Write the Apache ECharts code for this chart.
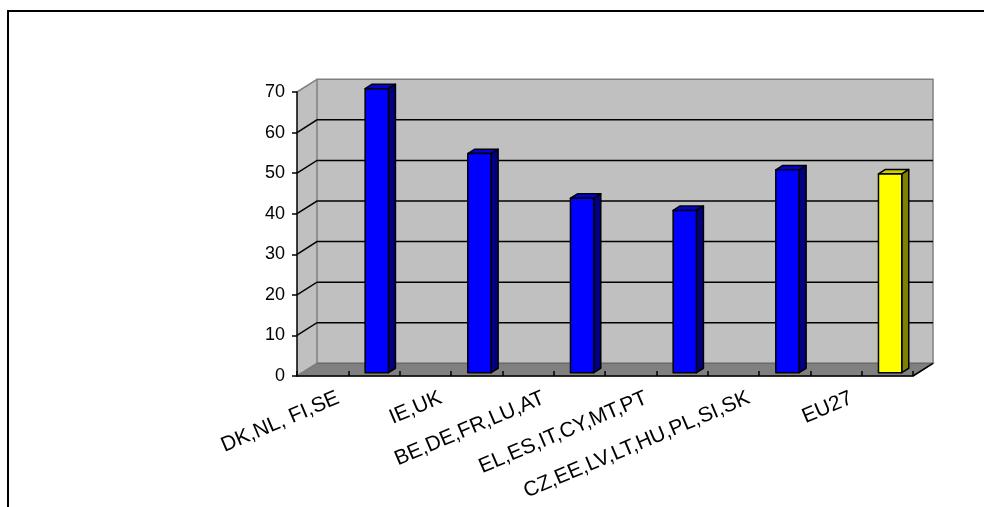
<!DOCTYPE html>
<html>
<head>
<meta charset="utf-8">
<script src="https://cdn.jsdelivr.net/npm/echarts@6/dist/echarts.min.js"></script>
<style>
  html, body { margin: 0; padding: 0; background: #fff; }
  #chart { width: 984px; height: 507px; }
</style>
</head>
<body>
<div id="chart"></div>
<script>
// Country groups along the category axis
const categories = ['DK,NL, FI,SE', 'IE,UK', 'BE,DE,FR,LU,AT', 'EL,ES,IT,CY,MT,PT', 'CZ,EE,LV,LT,HU,PL,SI,SK', 'EU27'];
// Column heights
const values = [70, 54, 43, 40, 50, 49];
// Value axis ticks
const yTicks = [0, 10, 20, 30, 40, 50, 60, 70];
const highlighted = 'EU27';

// 3-D look: depth vector of the floor, and where the columns sit in it
const DEPTH_X = 20, DEPTH_Y = 12.7;
const BAR_FRONT = 0.26, BAR_DEPTH = 0.35;
const BAR_SHIFT = 0.113, BAR_WIDTH = 0.227;

const palette = {
  normal: { front: '#0000ff', side: '#000080', top: '#0000d8' },
  highlight: { front: '#ffff00', side: '#808000', top: '#cccc00' }
};

const chart = echarts.init(document.getElementById('chart'), null, { renderer: 'canvas' });

function renderWalls(params, api) {
  const cs = params.coordSys;
  const x0 = cs.x, x1 = cs.x + cs.width;
  const yT = api.coord([0, yTicks[yTicks.length - 1]])[1];
  const yB = api.coord([0, yTicks[0]])[1];
  const children = [
    { type: 'polygon', shape: { points: [[x0, yT], [x0 + DEPTH_X, yT - DEPTH_Y], [x0 + DEPTH_X, yB - DEPTH_Y], [x0, yB]] },
      style: { fill: '#c0c0c0', stroke: null } },
    { type: 'polygon', shape: { points: [[x0 + DEPTH_X, yT - DEPTH_Y], [x1 + DEPTH_X, yT - DEPTH_Y], [x1 + DEPTH_X, yB - DEPTH_Y], [x0 + DEPTH_X, yB - DEPTH_Y]] },
      style: { fill: '#c0c0c0', stroke: '#808080', lineWidth: 1.5 } },
    { type: 'polygon', shape: { points: [[x0, yB], [x0 + DEPTH_X, yB - DEPTH_Y], [x1 + DEPTH_X, yB - DEPTH_Y], [x1, yB]] },
      style: { fill: '#808080', stroke: '#6a6a6a', lineWidth: 1.2 } },
    { type: 'polyline', shape: { points: [[x0, yT], [x0 + DEPTH_X, yT - DEPTH_Y]] },
      style: { stroke: '#808080', lineWidth: 1.5, fill: null } },
    { type: 'polyline', shape: { points: [[x0, yB], [x0 + DEPTH_X, yB - DEPTH_Y]] },
      style: { stroke: '#808080', lineWidth: 1.5, fill: null } },
    { type: 'polyline', shape: { points: [[x1, yB], [x1 + DEPTH_X, yB - DEPTH_Y]] },
      style: { stroke: '#000', lineWidth: 1.5, fill: null } }
  ];
  return { type: 'group', children };
}

function renderGrid(params, api) {
  const cs = params.coordSys;
  const x0 = cs.x, x1 = cs.x + cs.width;
  const v = api.value(0);
  const y = api.coord([0, v])[1];
  return {
    type: 'polyline',
    shape: { points: [[x0, y], [x0 + DEPTH_X, y - DEPTH_Y], [x1 + DEPTH_X, y - DEPTH_Y]] },
    style: { stroke: '#000', lineWidth: 1.5, fill: null }
  };
}

function renderBar(params, api) {
  const i = api.value(0), v = api.value(1);
  const band = api.size([1, 0])[0];
  const base = api.coord([i, 0]);
  const top = api.coord([i, v]);
  const ox = DEPTH_X * BAR_FRONT, oy = DEPTH_Y * BAR_FRONT;
  const dx = DEPTH_X * BAR_DEPTH, dy = DEPTH_Y * BAR_DEPTH;
  const xl = base[0] + band * BAR_SHIFT + ox;
  const xr = xl + band * BAR_WIDTH;
  const yb = base[1] - oy, yt = top[1] - oy;
  const c = categories[i] === highlighted ? palette.highlight : palette.normal;
  const edge = { stroke: '#000', lineWidth: 1.5, lineJoin: 'round' };
  return {
    type: 'group',
    children: [
      { type: 'polygon', shape: { points: [[xr, yb], [xr + dx, yb - dy], [xr + dx, yt - dy], [xr, yt]] },
        style: Object.assign({ fill: c.side }, edge) },
      { type: 'polygon', shape: { points: [[xl, yt], [xl + dx, yt - dy], [xr + dx, yt - dy], [xr, yt]] },
        style: Object.assign({ fill: c.top }, edge) },
      { type: 'rect', shape: { x: xl, y: yt, width: xr - xl, height: yb - yt },
        style: Object.assign({ fill: c.front }, edge) }
    ]
  };
}

const fontFamily = 'Liberation Sans, Arial, sans-serif';

chart.setOption({
  animation: false,
  graphic: [{
    type: 'rect', silent: true, z: 100,
    shape: { x: 8, y: 11, width: 1000, height: 600 },
    style: { fill: null, stroke: '#000', lineWidth: 2 }
  }],
  grid: { left: 297, top: 92, right: 71, bottom: 131, containLabel: false },
  xAxis: [{
    type: 'category',
    data: categories,
    z: 10,
    axisLine: { show: true, lineStyle: { color: '#000', width: 1.5 } },
    axisTick: { show: false },
    axisLabel: { interval: 0, rotate: 23, margin: 17, padding: [0, 11, 0, 0], fontFamily, fontSize: 21, color: '#000' },
    splitLine: { show: false }
  }, {
    type: 'value',
    min: 0, max: 12, interval: 1,
    position: 'bottom',
    z: 10,
    axisLine: { show: false },
    axisTick: { show: true, inside: true, length: 5, lineStyle: { color: '#000', width: 1.5 } },
    axisLabel: { show: false },
    splitLine: { show: false }
  }],
  yAxis: {
    type: 'value',
    min: yTicks[0], max: yTicks[yTicks.length - 1], interval: 10,
    z: 10,
    axisLine: { show: true, lineStyle: { color: '#000', width: 1.5 } },
    axisTick: { show: true, length: 5, lineStyle: { color: '#000', width: 1.5 } },
    axisLabel: { margin: 12, fontFamily, fontSize: 18, color: '#000' },
    splitLine: { show: false }
  },
  series: [{
    type: 'custom',
    name: 'walls',
    clip: false,
    silent: true,
    z: 1,
    renderItem: renderWalls,
    data: [[0]]
  }, {
    type: 'custom',
    name: 'gridlines',
    clip: false,
    silent: true,
    z: 2,
    renderItem: renderGrid,
    encode: { y: 0 },
    data: yTicks.slice(1, -1).map(v => [v])
  }, {
    type: 'custom',
    name: 'columns',
    clip: false,
    z: 3,
    renderItem: renderBar,
    encode: { x: 0, y: 1 },
    data: values.map((v, i) => [i, v])
  }]
});
</script>
</body>
</html>
